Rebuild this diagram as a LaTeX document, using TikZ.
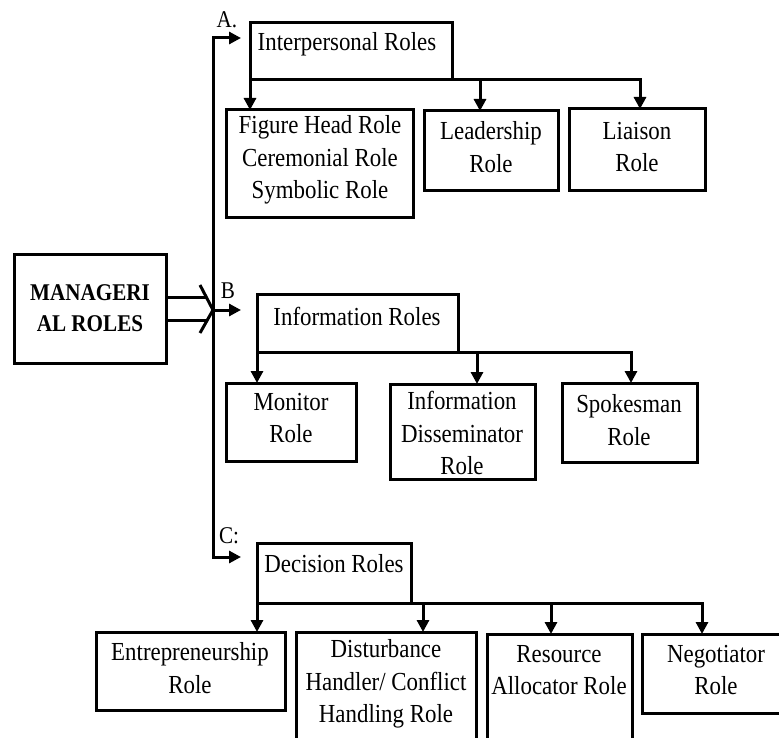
\documentclass[tikz,border=0pt]{standalone}
\usepackage{fontspec}
\setmainfont{Liberation Serif}[FakeStretch=0.88]
\usetikzlibrary{arrows.meta,calc}
\begin{document}
\begin{tikzpicture}[x=1pt,y=-1pt,
  every node/.style={font=\fontsize{26}{32.5}\selectfont, inner sep=0pt, align=center},
  box/.style={draw, line width=3pt, outer sep=0pt},
  conn/.style={line width=3pt},
  arr/.style={line width=3pt, -{Triangle[length=12pt,width=12pt]}},
  hollow/.style={line width=3pt, line join=miter},
  lbl/.style={font=\fontsize{24}{26}\selectfont}]
\useasboundingbox (0,0) rectangle (779,738);
\clip (0,0) rectangle (779,738);

% main box
\node[box, minimum width=152pt, minimum height=109pt, font=\fontsize{24}{31}\selectfont\bfseries] (man) at (90,308.5) {MANAGERI\\AL ROLES};

% category boxes
\node[box, minimum width=202pt, minimum height=57pt] (ip) at (351,51.5) {};
\node (ipT) at (347,44) {Interpersonal Roles};
\node[box, minimum width=201pt, minimum height=58pt] (inf) at (357.5,323) {};
\node (infT) at (357,316) {Information Roles};
\node[box, minimum width=154pt, minimum height=60pt] (dc) at (334,573) {};
\node (dcT) at (334,564) {Decision Roles};

% interpersonal children
\node[box, minimum width=187pt, minimum height=108pt] (fh) at (319.5,164) {};
\node (fhT) at (320,160) {Figure Head Role\\Ceremonial Role\\Symbolic Role};
\node[box, minimum width=134pt, minimum height=80pt] (ld) at (491,151) {};
\node (ldT) at (491,147) {Leadership\\Role};
\node[box, minimum width=136pt, minimum height=82pt] (li) at (637,150) {};
\node (liT) at (637,147) {Liaison\\Role};

% information children
\node[box, minimum width=130pt, minimum height=78pt] (mo) at (291,422) {};
\node (moT) at (291,418) {Monitor\\Role};
\node[box, minimum width=145pt, minimum height=95pt] (ds) at (462.5,431.5) {};
\node (dsT) at (462,433) {Information\\Disseminator\\Role};
\node[box, minimum width=135pt, minimum height=79pt] (sp) at (629.5,422.5) {};
\node (spT) at (629,420) {Spokesman\\Role};

% decision children
\node[box, minimum width=189pt, minimum height=78pt] (en) at (190.5,671) {};
\node (enT) at (190,668) {Entrepreneurship\\Role};
\node[box, minimum width=180pt, minimum height=138pt] (db) at (386,701) {};
\node (dbT) at (386,684) {Disturbance\\Handler/ Conflict\\Handling Role};
\node[box, minimum width=145pt, minimum height=136pt] (rs) at (559.5,702) {};
\node (rsT) at (559,670) {Resource\\Allocator Role};
\node[box, minimum width=168pt, minimum height=79pt] (ng) at (726,673.5) {};
\node (ngT) at (716,670) {Negotiator\\Role};

% labels
\node[lbl] (lA) at (227,20) {A.};
\node[lbl] (lB) at (228,291) {B};
\node[lbl] (lC) at (229,536) {C:};

% vertical bus and branch arrows
\coordinate (vt) at (213,38);
\coordinate (vB) at (213,310);
\coordinate (vb) at (213,557);
\coordinate (aA) at (241,38);
\coordinate (aB) at (241,310);
\coordinate (aC) at (241,557);
\draw[arr, line join=miter] (vB) -- (vt) -- (aA);
\draw[arr, line join=miter] (vB) -- (vb) -- (aC);
\draw[arr] (vB) -- (aB);

% hollow double arrow from main box
\draw[hollow] ($(man.east)+(0,-11.5)$) -- ($(man.east)+(40.5,-11.5)$);
\draw[hollow] ($(man.east)+(0,11.5)$) -- ($(man.east)+(40.5,11.5)$);
\draw[hollow] ($(man.east)+(34,-23.5)$) -- (vB) -- ($(man.east)+(34,24.5)$);

% interpersonal bus
\coordinate (b1a) at (480,80);
\coordinate (b1b) at (640,80);
\draw[arr] (ip.south west) -- (ip.south west |- fh.north);
\draw[arr] (b1a) -- (b1a |- ld.north);
\draw[arr, line join=miter] (ip.south east) -- (b1b) -- (b1b |- li.north);

% information bus
\coordinate (b2a) at (477,352);
\coordinate (b2b) at (631,352);
\draw[arr] (inf.south west) -- (inf.south west |- mo.north);
\draw[arr] (b2a) -- (b2a |- ds.north);
\draw[arr, line join=miter] (inf.south east) -- (b2b) -- (b2b |- sp.north);

% decision bus
\coordinate (b3a) at (423,603);
\coordinate (b3b) at (551,603);
\coordinate (b3c) at (702,603);
\draw[arr] (dc.south west) -- (dc.south west |- en.north);
\draw[arr] (b3a) -- (b3a |- db.north);
\draw[arr] (b3b) -- (b3b |- rs.north);
\draw[arr, line join=miter] (dc.south east) -- (b3c) -- (b3c |- ng.north);
\end{tikzpicture}
\end{document}
